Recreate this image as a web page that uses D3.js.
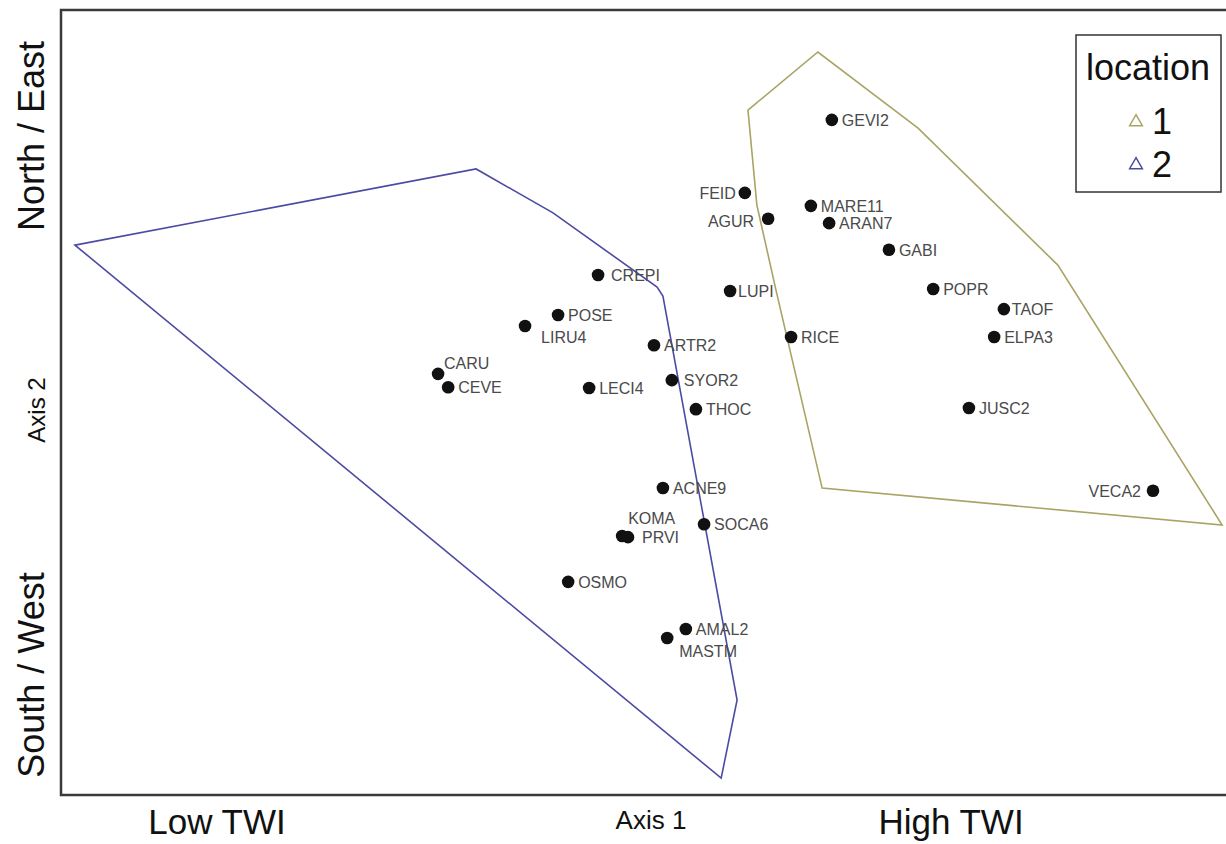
<!DOCTYPE html>
<html>
<head>
<meta charset="utf-8">
<script src="https://cdn.jsdelivr.net/npm/d3@7/dist/d3.min.js"></script>
<style>
  html, body { margin: 0; padding: 0; background: #fff; }
  svg { display: block; }
  text { font-family: "Liberation Sans", Arial, sans-serif; }
</style>
</head>
<body>
<svg id="chart" width="1226" height="844"></svg>
<script>
// ---- Data (NMS ordination scores) ----
const species = ["GEVI2","FEID","AGUR","MARE11","ARAN7","GABI","POPR","TAOF","ELPA3","JUSC2","VECA2",
  "LUPI","RICE","CREPI","POSE","LIRU4","ARTR2","CARU","CEVE","LECI4","SYOR2","THOC",
  "ACNE9","SOCA6","KOMA","PRVI","OSMO","AMAL2","MASTM"];
const axis1 = [0.485,0.261,0.321,0.431,0.478,0.632,0.746,0.928,0.903,0.838,1.312,
  0.223,0.380,-0.117,-0.220,-0.305,0.027,-0.529,-0.503,-0.140,0.073,0.135,
  0.050,0.156,-0.055,-0.040,-0.194,0.109,0.061];
const axis2 = [0.720,0.534,0.468,0.501,0.457,0.389,0.289,0.238,0.167,-0.014,-0.225,
  0.284,0.167,0.325,0.223,0.195,0.146,0.073,0.039,0.037,0.057,-0.017,
  -0.218,-0.310,-0.340,-0.343,-0.457,-0.577,-0.600];

// Convex hulls of site scores per location
const locations = ["1","2"];
const hull1Axis1 = [0.269,0.449,0.707,1.067,1.490,0.460,0.341,0.292];
const hull1Axis2 = [0.745,0.893,0.699,0.350,-0.312,-0.218,0.287,0.503];
const hull2Axis1 = [-1.464,-0.431,-0.233,0.035,0.050,0.241,0.200];
const hull2Axis2 = [0.401,0.595,0.483,0.294,0.271,-0.758,-0.957];

// ---- Layout / style ----
const plot = {left: 61, top: 10, right: 1226, bottom: 795};
const colors = {"1": "#a9a465", "2": "#4b4ba3"};

// label placement tweaks (pixels)
const labelPos = {
  FEID: {dx: -9, dy: 0, anchor: "end"},
  AGUR: {dx: -14, dy: 2, anchor: "end"},
  VECA2: {dx: -12, dy: 0, anchor: "end"},
  LIRU4: {dx: 16, dy: 11},
  CARU: {dx: 6, dy: -11},
  KOMA: {dx: 6, dy: -18},
  MASTM: {dx: 12, dy: 13},
  CREPI: {dx: 13, dy: 0},
  SYOR2: {dx: 12, dy: 0},
  TAOF: {dx: 8, dy: 0},
  LUPI: {dx: 8, dy: 0},
  PRVI: {dx: 14, dy: 0}
};

const svg = d3.select("#chart");
const x = d3.scaleLinear().domain([-1.5, 1.5]).range([plot.left, plot.right]);
const y = d3.scaleLinear().domain([-1, 1]).range([plot.bottom, plot.top]);

// Hulls
const line = d3.line().x(d => x(d[0])).y(d => y(d[1])).curve(d3.curveLinearClosed);
const hulls = [
  {loc: "1", pts: d3.zip(hull1Axis1, hull1Axis2)},
  {loc: "2", pts: d3.zip(hull2Axis1, hull2Axis2)}
];
svg.append("g").selectAll("path").data(hulls).join("path")
  .attr("d", d => line(d.pts))
  .attr("fill", "none")
  .attr("stroke", d => colors[d.loc])
  .attr("stroke-width", 1.6);

// Points
const pts = species.map((s, i) => ({name: s, a1: axis1[i], a2: axis2[i]}));
svg.append("g").selectAll("circle").data(pts).join("circle")
  .attr("cx", d => x(d.a1)).attr("cy", d => y(d.a2))
  .attr("r", 6.3).attr("fill", "#111");

svg.append("g").selectAll("text").data(pts).join("text")
  .attr("x", d => x(d.a1) + (labelPos[d.name] ? labelPos[d.name].dx : 10))
  .attr("y", d => y(d.a2) + (labelPos[d.name] ? labelPos[d.name].dy : 0))
  .attr("dy", "0.36em")
  .attr("text-anchor", d => (labelPos[d.name] && labelPos[d.name].anchor) || "start")
  .attr("font-size", 16)
  .attr("fill", "#4a4a4a")
  .text(d => d.name);

// Frame (left, top, bottom; right edge falls off the image)
svg.append("path")
  .attr("d", `M${plot.right + 5},${plot.top}H${plot.left}V${plot.bottom}H${plot.right + 5}`)
  .attr("fill", "none").attr("stroke", "#3a3a3a").attr("stroke-width", 2.5);

// Axis titles
svg.append("text").attr("transform", "translate(44,136) rotate(-90)")
  .attr("text-anchor", "middle").attr("font-size", 36).attr("fill", "#111").text("North / East");
svg.append("text").attr("transform", "translate(44,675) rotate(-90)")
  .attr("text-anchor", "middle").attr("font-size", 36).attr("fill", "#111").text("South / West");
svg.append("text").attr("transform", "translate(45,410) rotate(-90)")
  .attr("text-anchor", "middle").attr("font-size", 24).attr("fill", "#111").text("Axis 2");
svg.append("text").attr("x", 217).attr("y", 834)
  .attr("text-anchor", "middle").attr("font-size", 35).attr("fill", "#111").text("Low TWI");
svg.append("text").attr("x", 651).attr("y", 829)
  .attr("text-anchor", "middle").attr("font-size", 26).attr("fill", "#111").text("Axis 1");
svg.append("text").attr("x", 951).attr("y", 834)
  .attr("text-anchor", "middle").attr("font-size", 35).attr("fill", "#111").text("High TWI");

// Legend
const lg = svg.append("g");
lg.append("rect").attr("x", 1076).attr("y", 35).attr("width", 145).attr("height", 157)
  .attr("fill", "#fff").attr("stroke", "#333").attr("stroke-width", 1.5);
lg.append("text").attr("x", 1148).attr("y", 80).attr("text-anchor", "middle")
  .attr("font-size", 36).attr("fill", "#111").text("location");
const tri = d3.symbol(d3.symbolTriangle, 70);
locations.forEach((loc, i) => {
  const cy = 122 + i * 43;
  lg.append("path").attr("d", tri).attr("transform", `translate(1136,${cy})`)
    .attr("fill", "none").attr("stroke", colors[loc]).attr("stroke-width", 1.5);
  lg.append("text").attr("x", 1152).attr("y", cy + 12)
    .attr("font-size", 36).attr("fill", "#111").text(loc);
});
</script>
</body>
</html>
